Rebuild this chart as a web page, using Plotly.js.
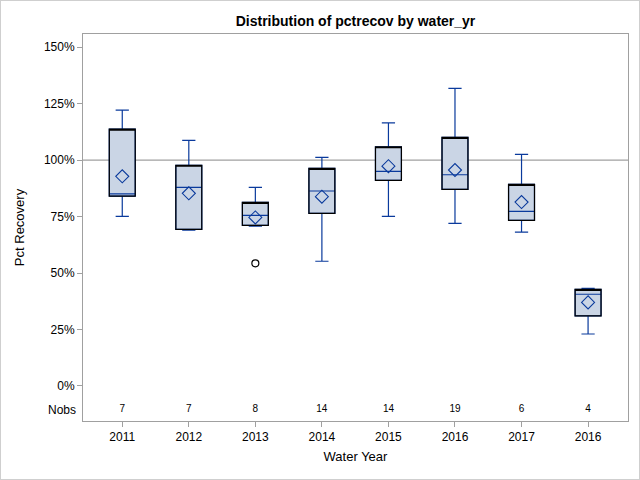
<!DOCTYPE html>
<html>
<head>
<meta charset="utf-8">
<script src="https://cdn.plot.ly/plotly-3.0.1.min.js"></script>
<style>
html,body{margin:0;padding:0;background:#fff;}
#chart{width:640px;height:480px;box-sizing:border-box;border:1px solid #cfcfcf;}
</style>
</head>
<body>
<div id="chart"></div>
<script>
const categories = ['2011','2012','2013','2014','2015','2016','2017','2016'];
const lowerWhisker = [75.1, 69.0, 70.8, 55.2, 75.1, 72.0, 68.1, 23.0];
const q1Values     = [84.0, 69.3, 71.1, 76.4, 91.0, 87.0, 73.3, 31.0];
const medianValues = [85.0, 87.9, 75.5, 86.3, 95.0, 93.5, 77.3, 40.6];
const q3Values     = [113.7, 97.7, 81.3, 96.3, 105.9, 110.0, 89.2, 42.8];
const upperWhisker = [122.1, 108.7, 87.9, 101.2, 116.5, 131.7, 102.5, 43.2];
const meanValues   = [92.8, 85.3, 74.6, 83.8, 97.3, 95.6, 81.4, 37.0];
const nobsValues   = [7, 7, 8, 14, 14, 19, 6, 4];
const outlierCategoryIndex = [2];
const outlierValues = [54.3];
const yTickValues = [0, 25, 50, 75, 100, 125, 150];
const referenceValue = 100;
const nobsRowValue = -10.6;

const idx = categories.map((c, i) => i);
const blue = '#0a3a9c';
const fill = '#cad5e5';

const traces = [
  {
    type: 'box', x: idx, q1: q1Values, median: medianValues, q3: q3Values,
    lowerfence: lowerWhisker, upperfence: upperWhisker,
    width: 0.39, whiskerwidth: 0.51, boxpoints: false,
    fillcolor: fill, line: {color: blue, width: 1.2},
    hoverinfo: 'skip', showlegend: false
  },
  {
    type: 'box', x: idx, q1: q1Values, median: q3Values, q3: q3Values,
    lowerfence: q1Values, upperfence: q3Values,
    width: 0.39, whiskerwidth: 0, boxpoints: false,
    fillcolor: 'rgba(0,0,0,0)', line: {color: '#000000', width: 1.2},
    hoverinfo: 'skip', showlegend: false
  },
  {
    type: 'scatter', mode: 'markers', x: idx, y: meanValues,
    marker: {symbol: 'diamond-open', size: 10, color: blue, line: {width: 1.1, color: blue}},
    hoverinfo: 'skip', showlegend: false
  },
  {
    type: 'scatter', mode: 'markers', x: outlierCategoryIndex, y: outlierValues,
    marker: {symbol: 'circle-open', size: 7, color: '#000', line: {width: 1.2, color: '#000'}},
    hoverinfo: 'skip', showlegend: false
  },
  {
    type: 'scatter', mode: 'text', x: idx, y: idx.map(() => nobsRowValue),
    text: nobsValues.map(String), textposition: 'middle center',
    textfont: {family: 'Liberation Sans, Arial, sans-serif', size: 10, color: '#000'},
    hoverinfo: 'skip', showlegend: false
  }
];

const axisFont = {family: 'Liberation Sans, Arial, sans-serif', size: 12, color: '#000'};

const layout = {
  width: 638, height: 478,
  margin: {l: 82, r: 11, t: 33, b: 58},
  paper_bgcolor: '#fff', plot_bgcolor: '#fff',
  boxmode: 'overlay',
  showlegend: false,
  title: {
    text: '<b>Distribution of pctrecov by water_yr</b>',
    font: {family: 'Liberation Sans, Arial, sans-serif', size: 14, color: '#000'},
    x: 0.5, xref: 'paper', y: 0.957, yref: 'container', yanchor: 'middle'
  },
  xaxis: {
    range: [-0.59, 7.6], tickmode: 'array', tickvals: idx, ticktext: categories,
    showgrid: false, zeroline: false, showline: true, mirror: true,
    linecolor: '#a0a0a0', linewidth: 1,
    ticks: 'outside', ticklen: 5, tickcolor: '#a0a0a0',
    tickfont: axisFont,
    title: {text: 'Water Year', font: {family: 'Liberation Sans, Arial, sans-serif', size: 13, color: '#000'}, standoff: 8}
  },
  yaxis: {
    range: [-15.5, 155.8], tickmode: 'array', tickvals: yTickValues,
    ticktext: yTickValues.map(v => v + '%'),
    showgrid: false, zeroline: false, showline: true, mirror: true,
    linecolor: '#a0a0a0', linewidth: 1,
    ticks: 'outside', ticklen: 5, tickcolor: '#a0a0a0',
    tickfont: axisFont,
    title: {text: 'Pct Recovery', font: {family: 'Liberation Sans, Arial, sans-serif', size: 13, color: '#000'}, standoff: 16}
  },
  shapes: [
    {type: 'line', xref: 'paper', x0: 0, x1: 1, yref: 'y', y0: referenceValue, y1: referenceValue,
     line: {color: '#a0a0a0', width: 1.3}, layer: 'below'}
  ],
  annotations: [
    {text: 'Nobs', xref: 'paper', x: -0.01, xanchor: 'right', yref: 'y', y: nobsRowValue,
     showarrow: false, font: axisFont}
  ]
};

Plotly.newPlot('chart', traces, layout, {staticPlot: true, displayModeBar: false});
</script>
</body>
</html>
